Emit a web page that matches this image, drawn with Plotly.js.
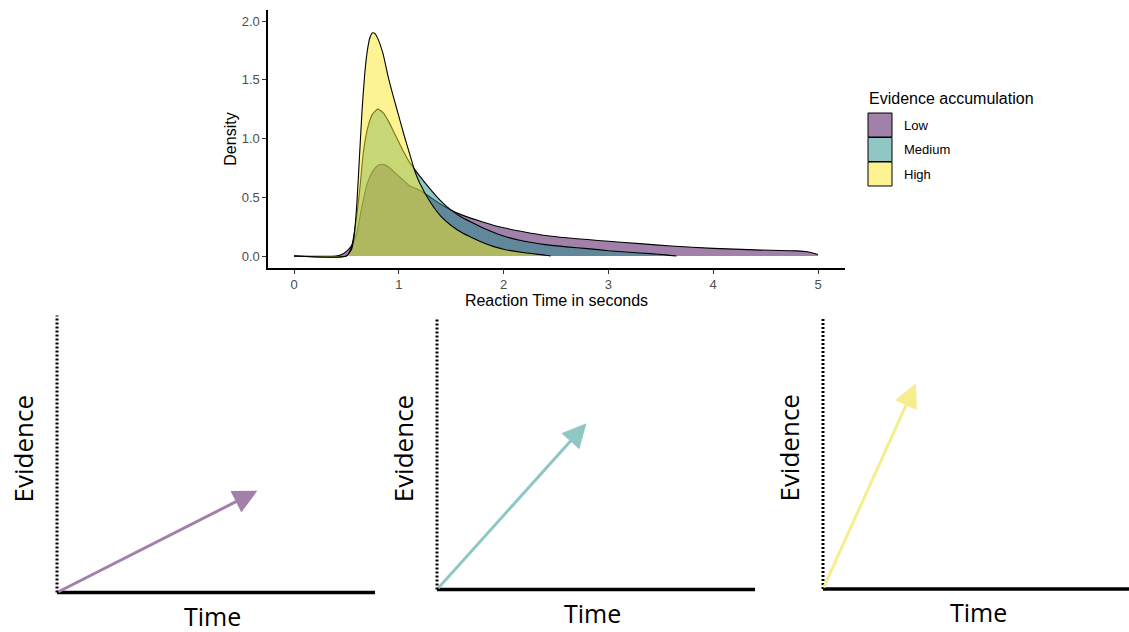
<!DOCTYPE html>
<html>
<head>
<meta charset="utf-8">
<script src="https://cdn.plot.ly/plotly-3.0.1.min.js"></script>
<style>html,body{margin:0;padding:0;background:#fff}#chart{width:1129px;height:632px}</style>
</head>
<body>
<div id="chart"></div>
<script>
// ---------- data ----------
const groups = ["Low", "Medium", "High"];
const fillColors = ["rgba(68,1,84,0.5)", "rgba(33,144,140,0.5)", "rgba(253,231,37,0.5)"];
const arrowColors = ["#A180AA", "#8FC7C5", "#F6EE8E"];

const rtLow = [0, 0.4, 0.45, 0.5, 0.55, 0.6, 0.65, 0.7, 0.75, 0.8, 0.85, 0.9, 0.95, 1.0, 1.1, 1.2, 1.3, 1.4, 1.5, 1.6, 1.8, 2.0, 2.2, 2.4, 2.6, 2.8, 3.0, 3.3, 3.6, 4.0, 4.4, 4.8, 4.9, 4.95, 5.0];
const densLow = [0, 0, 0.01, 0.04, 0.09, 0.2, 0.43, 0.62, 0.72, 0.77, 0.78, 0.76, 0.72, 0.68, 0.6, 0.56, 0.5, 0.44, 0.39, 0.35, 0.29, 0.24, 0.205, 0.175, 0.155, 0.14, 0.125, 0.105, 0.085, 0.065, 0.052, 0.044, 0.036, 0.026, 0.012];

const rtMedium = [0, 0.5, 0.55, 0.6, 0.63, 0.66, 0.7, 0.75, 0.8, 0.85, 0.9, 0.95, 1.0, 1.05, 1.1, 1.15, 1.2, 1.3, 1.4, 1.5, 1.6, 1.7, 1.8, 2.0, 2.2, 2.4, 2.6, 2.8, 3.0, 3.2, 3.4, 3.55, 3.65];
const densMedium = [0, 0, 0.08, 0.35, 0.59, 0.87, 1.08, 1.21, 1.25, 1.22, 1.15, 1.06, 0.97, 0.88, 0.8, 0.74, 0.68, 0.57, 0.47, 0.39, 0.33, 0.285, 0.24, 0.17, 0.125, 0.097, 0.078, 0.063, 0.045, 0.032, 0.02, 0.01, 0];

const rtHigh = [0, 0.5, 0.55, 0.575, 0.6, 0.625, 0.65, 0.675, 0.7, 0.725, 0.75, 0.775, 0.8, 0.85, 0.9, 0.95, 1.0, 1.05, 1.1, 1.15, 1.2, 1.3, 1.4, 1.5, 1.6, 1.7, 1.8, 1.9, 2.0, 2.2, 2.4, 2.45];
const densHigh = [0, 0, 0.06, 0.18, 0.45, 0.85, 1.25, 1.55, 1.75, 1.86, 1.90, 1.89, 1.85, 1.72, 1.52, 1.35, 1.19, 1.03, 0.88, 0.73, 0.62, 0.46, 0.34, 0.26, 0.2, 0.155, 0.115, 0.082, 0.058, 0.027, 0.007, 0];

const xTicks = [0, 1, 2, 3, 4, 5];
const yTicks = [0, 0.5, 1, 1.5, 2];
const yTickText = ["0.0", "0.5", "1.0", "1.5", "2.0"];

// schematic arrows (time, evidence) reached by each accumulation rate
const arrowTime = [0.63, 0.47, 0.292];
const arrowEvidence = [0.367, 0.612, 0.756];

// ---------- layout helpers ----------
const W = 1129, H = 632;
const fx = p => p / W;
const fy = p => 1 - p / H;

const rtX = [rtLow, rtMedium, rtHigh];
const rtY = [densLow, densMedium, densHigh];

const traces = groups.map((g, i) => ({
  type: "scatter", mode: "lines", name: g,
  x: rtX[i], y: rtY[i],
  fill: "tozeroy", fillcolor: fillColors[i],
  line: {color: "#000", width: 1.1, shape: "spline", smoothing: 0.5},
  xaxis: "x", yaxis: "y", showlegend: false, hoverinfo: "skip"
}));

// bottom schematic panels: origin px, scale px
const panels = [
  {ox: 57, oy: 592.5, sx: 318, sy: 277},
  {ox: 437, oy: 589.5, sx: 318, sy: 271.5},
  {ox: 823, oy: 589, sx: 318, sy: 272}
];
const layout = {
  width: W, height: H,
  margin: {l: 0, r: 0, t: 0, b: 0},
  paper_bgcolor: "#fff", plot_bgcolor: "rgba(0,0,0,0)",
  showlegend: false,
  font: {family: "Liberation Sans, Arial, sans-serif", color: "#000"},
  xaxis: {
    domain: [fx(268), fx(845)], range: [-0.2481, 5.2576],
    tickvals: xTicks, ticktext: xTicks.map(String),
    ticks: "outside", ticklen: 4, tickwidth: 1, tickcolor: "#333",
    tickfont: {size: 13, color: "#4D4D4D"},
    showline: true, linecolor: "#000", linewidth: 1.6,
    showgrid: false, zeroline: false, anchor: "y",
    title: {text: "Reaction Time in seconds", font: {size: 16, color: "#000"}, standoff: 3}
  },
  yaxis: {
    domain: [fy(268), fy(10)], range: [-0.1021, 2.0936],
    tickvals: yTicks, ticktext: yTickText,
    ticks: "outside", ticklen: 4, tickwidth: 1, tickcolor: "#333",
    tickfont: {size: 13, color: "#4D4D4D"},
    showline: true, linecolor: "#000", linewidth: 1.6,
    showgrid: false, zeroline: false, anchor: "x",
    title: {text: "Density", font: {size: 16, color: "#000"}, standoff: 1}
  },
  shapes: [],
  annotations: []
};

panels.forEach((p, i) => {
  const n = i + 2;
  const xa = "xaxis" + n, ya = "yaxis" + n;
  const xr = "x" + n, yr = "y" + n;
  const leftPx = p.ox - 0.05 * p.sx;
  const rightPx = Math.min(p.ox + 1.02 * p.sx, W);
  const botPx = p.oy + 0.05 * p.sy;
  const topPx = p.oy - 1.02 * p.sy;
  layout[xa] = {domain: [fx(leftPx), fx(rightPx)], range: [-0.05, (rightPx - p.ox) / p.sx],
    visible: false, anchor: yr, fixedrange: true};
  layout[ya] = {domain: [fy(botPx), fy(topPx)], range: [-0.05, 1.02],
    visible: false, anchor: xr, fixedrange: true};
  // Time axis (solid)
  traces.push({type: "scatter", mode: "lines", x: [0, 1], y: [0, 0], xaxis: xr, yaxis: yr,
    line: {color: "#000", width: 3.5}, showlegend: false, hoverinfo: "skip"});
  // Evidence axis (dotted)
  traces.push({type: "scatter", mode: "lines", x: [0, 0], y: [0, 1], xaxis: xr, yaxis: yr,
    line: {color: "#000", width: 3, dash: "2px,2px"}, showlegend: false, hoverinfo: "skip", cliponaxis: false});
  // arrow
  layout.annotations.push({
    xref: xr, yref: yr, axref: xr, ayref: yr,
    x: arrowTime[i], y: arrowEvidence[i], ax: 0, ay: 0,
    text: "", showarrow: true, arrowhead: 2, arrowsize: 1.6, arrowwidth: 3,
    arrowcolor: arrowColors[i], standoff: 0, startstandoff: 0
  });
  // labels
  layout.annotations.push({
    xref: "paper", yref: "paper", x: fx(p.ox - 34), y: fy(p.oy - 0.52 * p.sy),
    text: "Evidence", textangle: -90, showarrow: false, xanchor: "center", yanchor: "middle",
    font: {family: "Open Sans, sans-serif", size: 26, color: "#000"}
  });
  layout.annotations.push({
    xref: "paper", yref: "paper", x: fx(p.ox + 0.49 * p.sx), y: fy(p.oy + 23),
    text: "Time", showarrow: false, xanchor: "center", yanchor: "middle",
    font: {family: "Open Sans, sans-serif", size: 25, color: "#000"}
  });
});

// custom legend
layout.annotations.push({
  xref: "paper", yref: "paper", x: fx(867), y: fy(99), xanchor: "left", yanchor: "middle",
  text: "Evidence accumulation", showarrow: false, font: {size: 16, color: "#000"}
});
groups.forEach((g, i) => {
  const top = 113 + i * 24.5;
  layout.shapes.push({
    type: "rect", xref: "paper", yref: "paper",
    x0: fx(868), x1: fx(892), y0: fy(top + 24), y1: fy(top),
    fillcolor: fillColors[i], line: {color: "#000", width: 1}
  });
  layout.annotations.push({
    xref: "paper", yref: "paper", x: fx(902), y: fy(top + 12.5), xanchor: "left", yanchor: "middle",
    text: g, showarrow: false, font: {size: 13, color: "#000"}
  });
});

Plotly.newPlot("chart", traces, layout, {displayModeBar: false, staticPlot: true});
</script>
</body>
</html>
